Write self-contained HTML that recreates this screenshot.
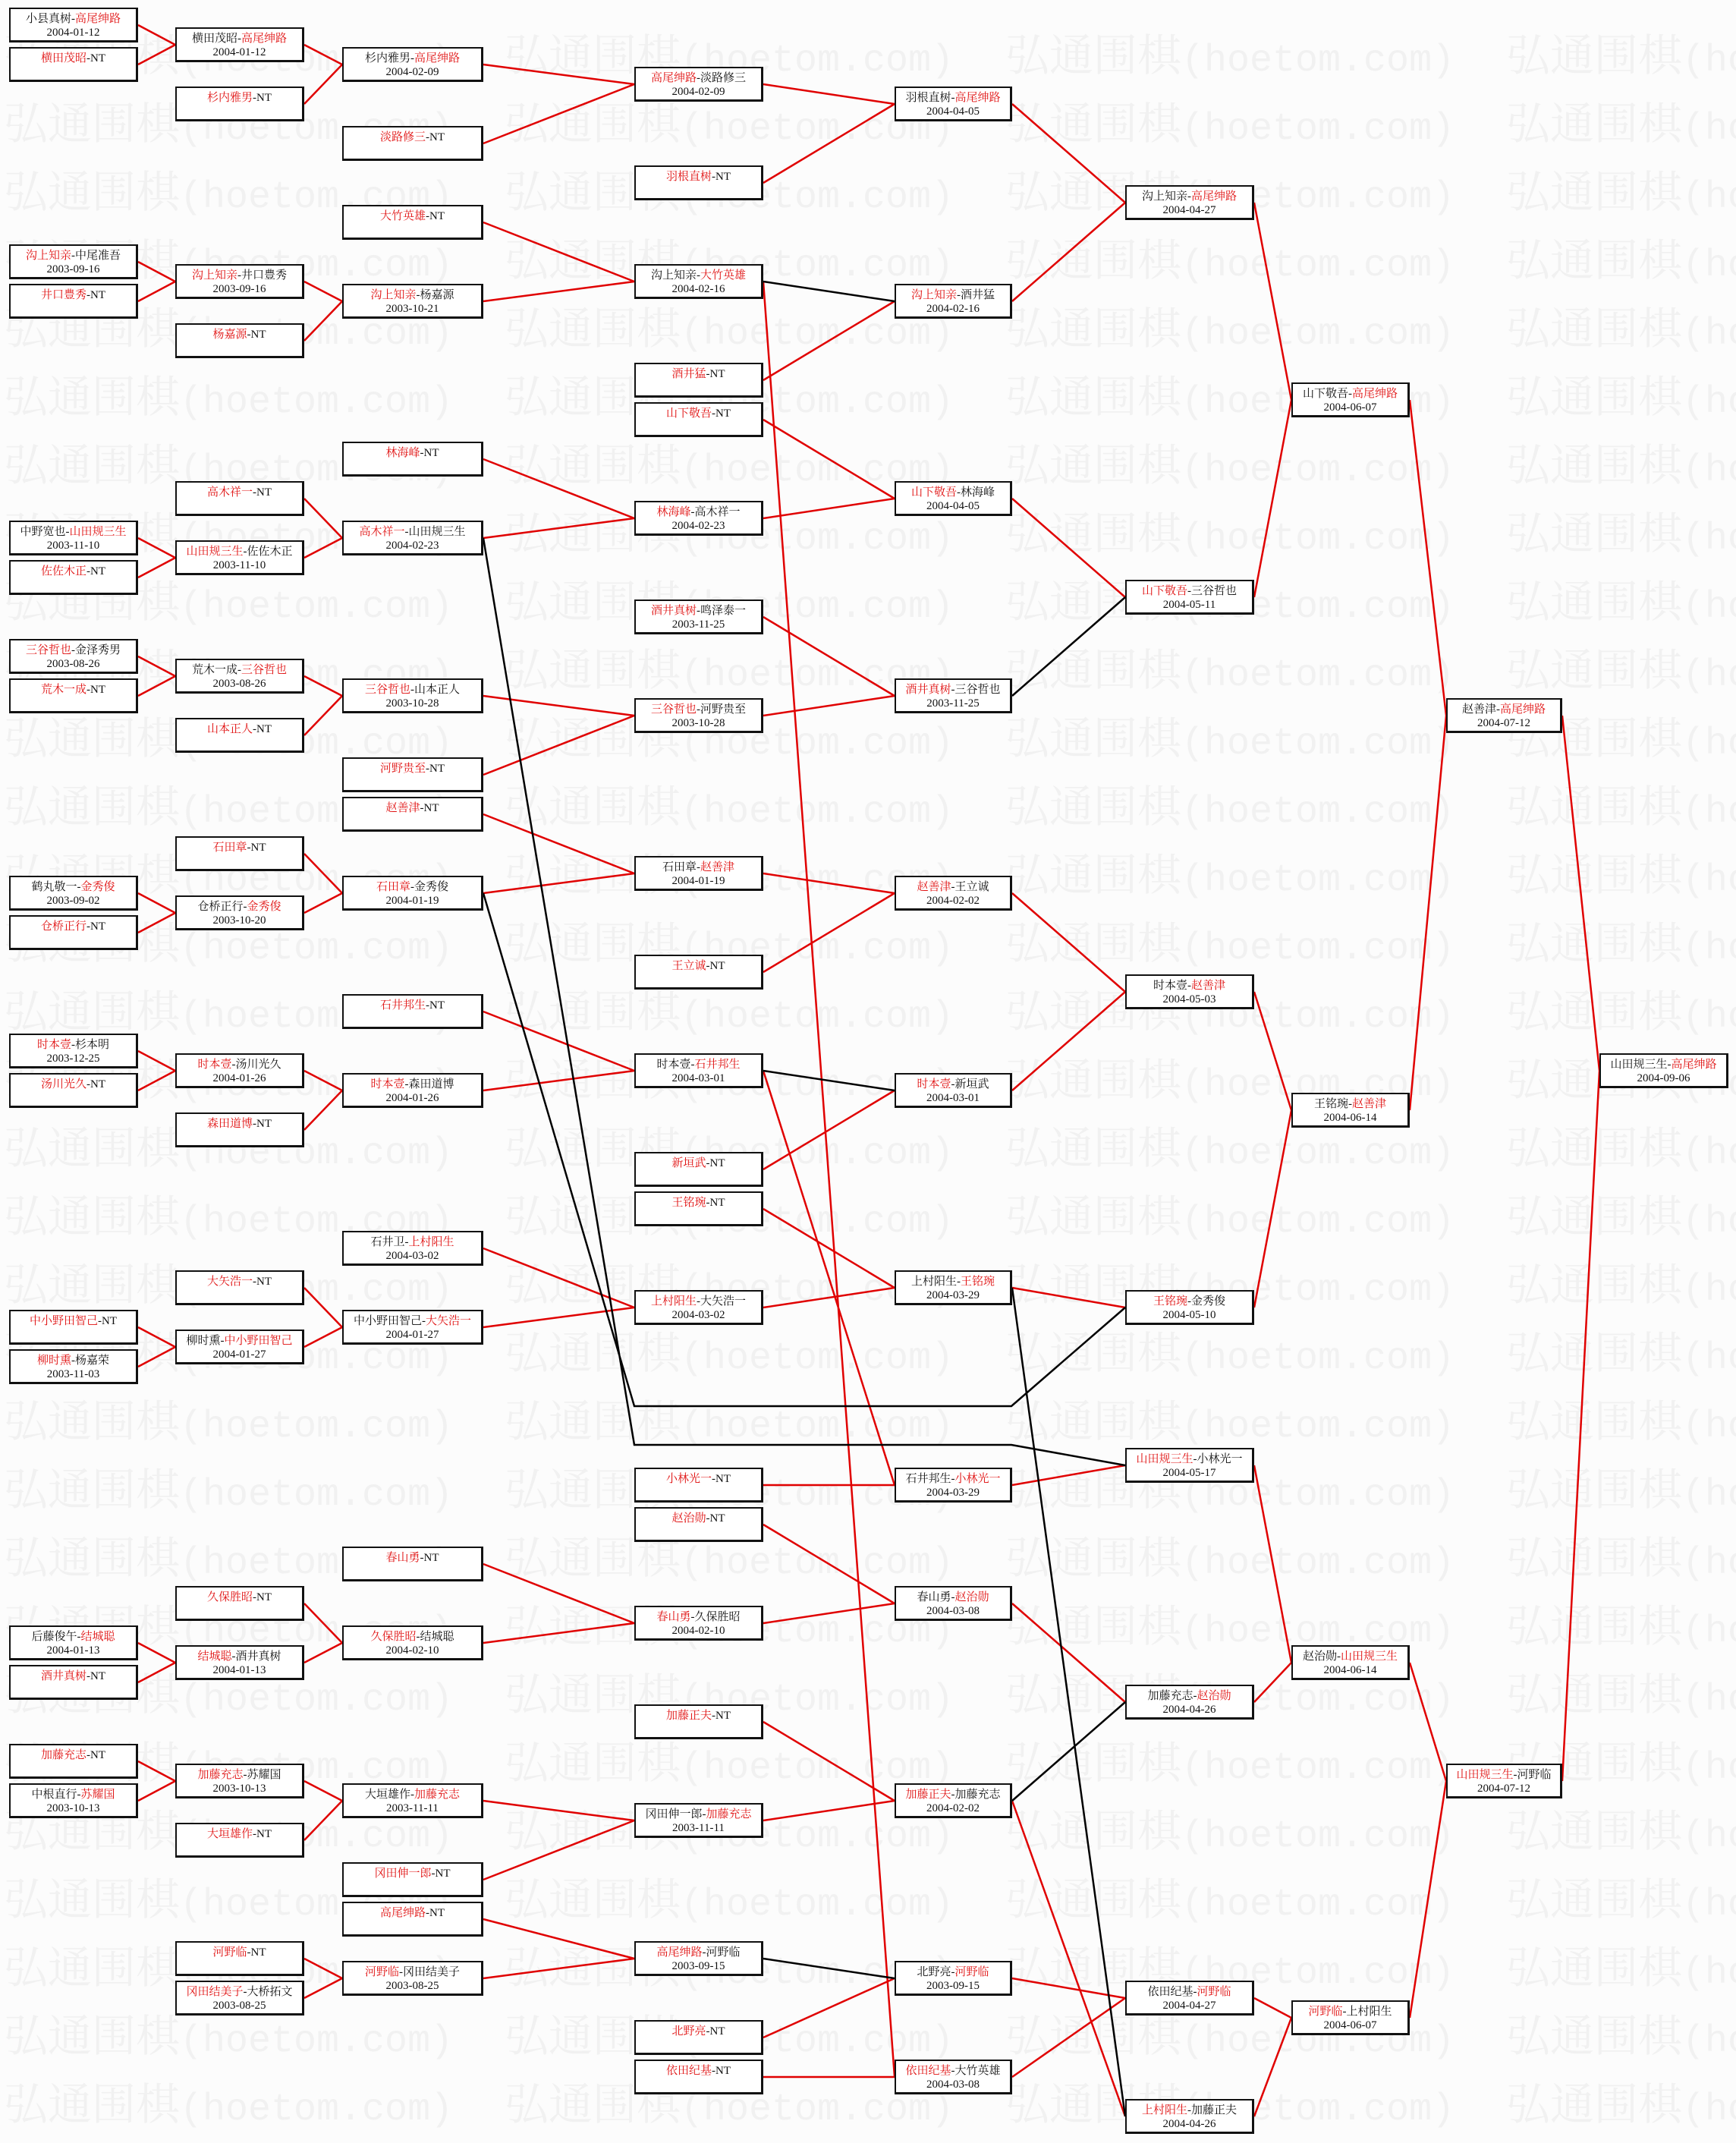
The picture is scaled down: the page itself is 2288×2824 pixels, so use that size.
<!DOCTYPE html>
<html><head><meta charset="utf-8">
<style>
html,body{margin:0;padding:0}
body{width:2288px;height:2821px;position:relative;background:#fcfcfc;overflow:hidden;font-family:"Liberation Serif","Noto Serif CJK SC",serif}
.wm{position:absolute;left:5px;white-space:nowrap;color:#f1f1f1;height:70px;line-height:70px}
.wm span{display:inline-block;width:660px}
.wm b{font-weight:normal;font-family:"Noto Serif CJK SC",serif;font-size:58px}
.wm i{font-style:normal;font-family:"Liberation Mono",monospace;font-size:50px}
svg{position:absolute;left:0;top:0}
.b{position:absolute;box-sizing:border-box;height:46px;border:2px solid #111;border-right-width:3px;border-bottom-width:3px;background:#fff;text-align:center;font-size:15px;line-height:18px;padding-top:4px;color:#111;white-space:nowrap;font-family:"Liberation Serif","Noto Serif CJK SC",serif}
.r{color:#e01010}
.c0{left:12px;width:170px}.c1{left:231px;width:170px}.c2{left:451px;width:186px}.c3{left:836px;width:170px}
.c4{left:1179px;width:155px}.c5{left:1483px;width:170px}.c6{left:1702px;width:156px}.c7{left:1906px;width:153px}.c8{left:2108px;width:170px}
</style></head><body>

<div class="wm" style="top:33px"><span><b>弘通围棋</b><i>(hoetom.com)</i></span><span><b>弘通围棋</b><i>(hoetom.com)</i></span><span><b>弘通围棋</b><i>(hoetom.com)</i></span><span><b>弘通围棋</b><i>(hoetom.com)</i></span></div>
<div class="wm" style="top:123px"><span><b>弘通围棋</b><i>(hoetom.com)</i></span><span><b>弘通围棋</b><i>(hoetom.com)</i></span><span><b>弘通围棋</b><i>(hoetom.com)</i></span><span><b>弘通围棋</b><i>(hoetom.com)</i></span></div>
<div class="wm" style="top:213px"><span><b>弘通围棋</b><i>(hoetom.com)</i></span><span><b>弘通围棋</b><i>(hoetom.com)</i></span><span><b>弘通围棋</b><i>(hoetom.com)</i></span><span><b>弘通围棋</b><i>(hoetom.com)</i></span></div>
<div class="wm" style="top:303px"><span><b>弘通围棋</b><i>(hoetom.com)</i></span><span><b>弘通围棋</b><i>(hoetom.com)</i></span><span><b>弘通围棋</b><i>(hoetom.com)</i></span><span><b>弘通围棋</b><i>(hoetom.com)</i></span></div>
<div class="wm" style="top:393px"><span><b>弘通围棋</b><i>(hoetom.com)</i></span><span><b>弘通围棋</b><i>(hoetom.com)</i></span><span><b>弘通围棋</b><i>(hoetom.com)</i></span><span><b>弘通围棋</b><i>(hoetom.com)</i></span></div>
<div class="wm" style="top:483px"><span><b>弘通围棋</b><i>(hoetom.com)</i></span><span><b>弘通围棋</b><i>(hoetom.com)</i></span><span><b>弘通围棋</b><i>(hoetom.com)</i></span><span><b>弘通围棋</b><i>(hoetom.com)</i></span></div>
<div class="wm" style="top:573px"><span><b>弘通围棋</b><i>(hoetom.com)</i></span><span><b>弘通围棋</b><i>(hoetom.com)</i></span><span><b>弘通围棋</b><i>(hoetom.com)</i></span><span><b>弘通围棋</b><i>(hoetom.com)</i></span></div>
<div class="wm" style="top:663px"><span><b>弘通围棋</b><i>(hoetom.com)</i></span><span><b>弘通围棋</b><i>(hoetom.com)</i></span><span><b>弘通围棋</b><i>(hoetom.com)</i></span><span><b>弘通围棋</b><i>(hoetom.com)</i></span></div>
<div class="wm" style="top:753px"><span><b>弘通围棋</b><i>(hoetom.com)</i></span><span><b>弘通围棋</b><i>(hoetom.com)</i></span><span><b>弘通围棋</b><i>(hoetom.com)</i></span><span><b>弘通围棋</b><i>(hoetom.com)</i></span></div>
<div class="wm" style="top:843px"><span><b>弘通围棋</b><i>(hoetom.com)</i></span><span><b>弘通围棋</b><i>(hoetom.com)</i></span><span><b>弘通围棋</b><i>(hoetom.com)</i></span><span><b>弘通围棋</b><i>(hoetom.com)</i></span></div>
<div class="wm" style="top:933px"><span><b>弘通围棋</b><i>(hoetom.com)</i></span><span><b>弘通围棋</b><i>(hoetom.com)</i></span><span><b>弘通围棋</b><i>(hoetom.com)</i></span><span><b>弘通围棋</b><i>(hoetom.com)</i></span></div>
<div class="wm" style="top:1023px"><span><b>弘通围棋</b><i>(hoetom.com)</i></span><span><b>弘通围棋</b><i>(hoetom.com)</i></span><span><b>弘通围棋</b><i>(hoetom.com)</i></span><span><b>弘通围棋</b><i>(hoetom.com)</i></span></div>
<div class="wm" style="top:1113px"><span><b>弘通围棋</b><i>(hoetom.com)</i></span><span><b>弘通围棋</b><i>(hoetom.com)</i></span><span><b>弘通围棋</b><i>(hoetom.com)</i></span><span><b>弘通围棋</b><i>(hoetom.com)</i></span></div>
<div class="wm" style="top:1203px"><span><b>弘通围棋</b><i>(hoetom.com)</i></span><span><b>弘通围棋</b><i>(hoetom.com)</i></span><span><b>弘通围棋</b><i>(hoetom.com)</i></span><span><b>弘通围棋</b><i>(hoetom.com)</i></span></div>
<div class="wm" style="top:1293px"><span><b>弘通围棋</b><i>(hoetom.com)</i></span><span><b>弘通围棋</b><i>(hoetom.com)</i></span><span><b>弘通围棋</b><i>(hoetom.com)</i></span><span><b>弘通围棋</b><i>(hoetom.com)</i></span></div>
<div class="wm" style="top:1383px"><span><b>弘通围棋</b><i>(hoetom.com)</i></span><span><b>弘通围棋</b><i>(hoetom.com)</i></span><span><b>弘通围棋</b><i>(hoetom.com)</i></span><span><b>弘通围棋</b><i>(hoetom.com)</i></span></div>
<div class="wm" style="top:1473px"><span><b>弘通围棋</b><i>(hoetom.com)</i></span><span><b>弘通围棋</b><i>(hoetom.com)</i></span><span><b>弘通围棋</b><i>(hoetom.com)</i></span><span><b>弘通围棋</b><i>(hoetom.com)</i></span></div>
<div class="wm" style="top:1563px"><span><b>弘通围棋</b><i>(hoetom.com)</i></span><span><b>弘通围棋</b><i>(hoetom.com)</i></span><span><b>弘通围棋</b><i>(hoetom.com)</i></span><span><b>弘通围棋</b><i>(hoetom.com)</i></span></div>
<div class="wm" style="top:1653px"><span><b>弘通围棋</b><i>(hoetom.com)</i></span><span><b>弘通围棋</b><i>(hoetom.com)</i></span><span><b>弘通围棋</b><i>(hoetom.com)</i></span><span><b>弘通围棋</b><i>(hoetom.com)</i></span></div>
<div class="wm" style="top:1743px"><span><b>弘通围棋</b><i>(hoetom.com)</i></span><span><b>弘通围棋</b><i>(hoetom.com)</i></span><span><b>弘通围棋</b><i>(hoetom.com)</i></span><span><b>弘通围棋</b><i>(hoetom.com)</i></span></div>
<div class="wm" style="top:1833px"><span><b>弘通围棋</b><i>(hoetom.com)</i></span><span><b>弘通围棋</b><i>(hoetom.com)</i></span><span><b>弘通围棋</b><i>(hoetom.com)</i></span><span><b>弘通围棋</b><i>(hoetom.com)</i></span></div>
<div class="wm" style="top:1923px"><span><b>弘通围棋</b><i>(hoetom.com)</i></span><span><b>弘通围棋</b><i>(hoetom.com)</i></span><span><b>弘通围棋</b><i>(hoetom.com)</i></span><span><b>弘通围棋</b><i>(hoetom.com)</i></span></div>
<div class="wm" style="top:2013px"><span><b>弘通围棋</b><i>(hoetom.com)</i></span><span><b>弘通围棋</b><i>(hoetom.com)</i></span><span><b>弘通围棋</b><i>(hoetom.com)</i></span><span><b>弘通围棋</b><i>(hoetom.com)</i></span></div>
<div class="wm" style="top:2103px"><span><b>弘通围棋</b><i>(hoetom.com)</i></span><span><b>弘通围棋</b><i>(hoetom.com)</i></span><span><b>弘通围棋</b><i>(hoetom.com)</i></span><span><b>弘通围棋</b><i>(hoetom.com)</i></span></div>
<div class="wm" style="top:2193px"><span><b>弘通围棋</b><i>(hoetom.com)</i></span><span><b>弘通围棋</b><i>(hoetom.com)</i></span><span><b>弘通围棋</b><i>(hoetom.com)</i></span><span><b>弘通围棋</b><i>(hoetom.com)</i></span></div>
<div class="wm" style="top:2283px"><span><b>弘通围棋</b><i>(hoetom.com)</i></span><span><b>弘通围棋</b><i>(hoetom.com)</i></span><span><b>弘通围棋</b><i>(hoetom.com)</i></span><span><b>弘通围棋</b><i>(hoetom.com)</i></span></div>
<div class="wm" style="top:2373px"><span><b>弘通围棋</b><i>(hoetom.com)</i></span><span><b>弘通围棋</b><i>(hoetom.com)</i></span><span><b>弘通围棋</b><i>(hoetom.com)</i></span><span><b>弘通围棋</b><i>(hoetom.com)</i></span></div>
<div class="wm" style="top:2463px"><span><b>弘通围棋</b><i>(hoetom.com)</i></span><span><b>弘通围棋</b><i>(hoetom.com)</i></span><span><b>弘通围棋</b><i>(hoetom.com)</i></span><span><b>弘通围棋</b><i>(hoetom.com)</i></span></div>
<div class="wm" style="top:2553px"><span><b>弘通围棋</b><i>(hoetom.com)</i></span><span><b>弘通围棋</b><i>(hoetom.com)</i></span><span><b>弘通围棋</b><i>(hoetom.com)</i></span><span><b>弘通围棋</b><i>(hoetom.com)</i></span></div>
<div class="wm" style="top:2643px"><span><b>弘通围棋</b><i>(hoetom.com)</i></span><span><b>弘通围棋</b><i>(hoetom.com)</i></span><span><b>弘通围棋</b><i>(hoetom.com)</i></span><span><b>弘通围棋</b><i>(hoetom.com)</i></span></div>
<div class="wm" style="top:2733px"><span><b>弘通围棋</b><i>(hoetom.com)</i></span><span><b>弘通围棋</b><i>(hoetom.com)</i></span><span><b>弘通围棋</b><i>(hoetom.com)</i></span><span><b>弘通围棋</b><i>(hoetom.com)</i></span></div>

<svg width="2288" height="2821" viewBox="0 0 2288 2821">
<g stroke="#e00000" stroke-width="2.5" fill="none">
<path d="M182 33L231 59M182 85L231 59M182 345L231 371M182 397L231 371M182 709L231 735M182 761L231 735M182 865L231 891M182 917L231 891M182 1177L231 1203M182 1229L231 1203M182 1385L231 1411M182 1437L231 1411M182 1749L231 1775M182 1801L231 1775M182 2165L231 2191M182 2217L231 2191M182 2321L231 2347M182 2373L231 2347"/>
<path d="M401 59L451 85M401 137L451 85M401 371L451 397M401 449L451 397M401 657L451 709M401 735L451 709M401 891L451 917M401 969L451 917M401 1125L451 1177M401 1203L451 1177M401 1411L451 1437M401 1489L451 1437M401 1697L451 1749M401 1775L451 1749M401 2113L451 2165M401 2191L451 2165M401 2347L451 2373M401 2425L451 2373M401 2581L451 2607M401 2633L451 2607"/>
<path d="M637 85L836 111M637 189L836 111M637 293L836 371M637 397L836 371M637 605L836 683M637 709L836 683M637 917L836 943M637 1021L836 943M637 1073L836 1151M637 1177L836 1151M637 1333L836 1411M637 1437L836 1411M637 1645L836 1723M637 1749L836 1723M637 2061L836 2139M637 2165L836 2139M637 2373L836 2399M637 2477L836 2399M637 2529L836 2581M637 2607L836 2581"/>
<path d="M1006 111L1179 137M1006 241L1179 137M1006 501L1179 397M1006 553L1179 657M1006 683L1179 657M1006 813L1179 917M1006 943L1179 917M1006 1151L1179 1177M1006 1281L1179 1177M1006 1541L1179 1437M1006 1593L1179 1697M1006 1723L1179 1697M1006 1957L1179 1957M1006 2009L1179 2113M1006 2139L1179 2113M1006 2269L1179 2373M1006 2399L1179 2373M1006 2685L1179 2607M1006 2737L1179 2737M1006 371L1179 2737M1006 1411L1179 1957"/>
<path d="M1334 137L1483 267M1334 397L1483 267M1334 657L1483 787M1334 1177L1483 1307M1334 1437L1483 1307M1334 1697L1483 1723M1334 1957L1483 1931M1334 2113L1483 2243M1334 2373L1483 2789M1334 2607L1483 2633M1334 2737L1483 2633"/>
<path d="M1653 267L1702 527M1653 787L1702 527M1653 1307L1702 1463M1653 1723L1702 1463M1653 1931L1702 2191M1653 2243L1702 2191M1653 2633L1702 2659M1653 2789L1702 2659"/>
<path d="M1858 527L1906 943M1858 1463L1906 943M1858 2191L1906 2347M1858 2659L1906 2347M2059 943L2108 1411M2059 2347L2108 1411"/>
</g>
<g stroke="#000" stroke-width="2.5" fill="none">
<path d="M1006 371L1179 397M1006 1411L1179 1437M1006 2581L1179 2607M1334 917L1483 787M1334 2373L1483 2243M1334 1697L1483 2789"/>
<path d="M637 709L836 1904L1333 1904L1483 1931M637 1177L836 1853L1333 1853L1483 1723"/>
</g>
</svg>

<!-- C0 -->
<div class="b c0" style="top:10px">小县真树-<span class="r">高尾绅路</span><br>2004-01-12</div>
<div class="b c0" style="top:62px"><span class="r">横田茂昭</span>-NT</div>
<div class="b c0" style="top:322px"><span class="r">沟上知亲</span>-中尾准吾<br>2003-09-16</div>
<div class="b c0" style="top:374px"><span class="r">井口豊秀</span>-NT</div>
<div class="b c0" style="top:686px">中野宽也-<span class="r">山田规三生</span><br>2003-11-10</div>
<div class="b c0" style="top:738px"><span class="r">佐佐木正</span>-NT</div>
<div class="b c0" style="top:842px"><span class="r">三谷哲也</span>-金泽秀男<br>2003-08-26</div>
<div class="b c0" style="top:894px"><span class="r">荒木一成</span>-NT</div>
<div class="b c0" style="top:1154px">鹤丸敬一-<span class="r">金秀俊</span><br>2003-09-02</div>
<div class="b c0" style="top:1206px"><span class="r">仓桥正行</span>-NT</div>
<div class="b c0" style="top:1362px"><span class="r">时本壹</span>-杉本明<br>2003-12-25</div>
<div class="b c0" style="top:1414px"><span class="r">汤川光久</span>-NT</div>
<div class="b c0" style="top:1726px"><span class="r">中小野田智己</span>-NT</div>
<div class="b c0" style="top:1778px"><span class="r">柳时熏</span>-杨嘉荣<br>2003-11-03</div>
<div class="b c0" style="top:2142px">后藤俊午-<span class="r">结城聪</span><br>2004-01-13</div>
<div class="b c0" style="top:2194px"><span class="r">酒井真树</span>-NT</div>
<div class="b c0" style="top:2298px"><span class="r">加藤充志</span>-NT</div>
<div class="b c0" style="top:2350px">中根直行-<span class="r">苏耀国</span><br>2003-10-13</div>

<!-- C1 -->
<div class="b c1" style="top:36px">横田茂昭-<span class="r">高尾绅路</span><br>2004-01-12</div>
<div class="b c1" style="top:114px"><span class="r">杉内雅男</span>-NT</div>
<div class="b c1" style="top:348px"><span class="r">沟上知亲</span>-井口豊秀<br>2003-09-16</div>
<div class="b c1" style="top:426px"><span class="r">杨嘉源</span>-NT</div>
<div class="b c1" style="top:634px"><span class="r">高木祥一</span>-NT</div>
<div class="b c1" style="top:712px"><span class="r">山田规三生</span>-佐佐木正<br>2003-11-10</div>
<div class="b c1" style="top:868px">荒木一成-<span class="r">三谷哲也</span><br>2003-08-26</div>
<div class="b c1" style="top:946px"><span class="r">山本正人</span>-NT</div>
<div class="b c1" style="top:1102px"><span class="r">石田章</span>-NT</div>
<div class="b c1" style="top:1180px">仓桥正行-<span class="r">金秀俊</span><br>2003-10-20</div>
<div class="b c1" style="top:1388px"><span class="r">时本壹</span>-汤川光久<br>2004-01-26</div>
<div class="b c1" style="top:1466px"><span class="r">森田道博</span>-NT</div>
<div class="b c1" style="top:1674px"><span class="r">大矢浩一</span>-NT</div>
<div class="b c1" style="top:1752px">柳时熏-<span class="r">中小野田智己</span><br>2004-01-27</div>
<div class="b c1" style="top:2090px"><span class="r">久保胜昭</span>-NT</div>
<div class="b c1" style="top:2168px"><span class="r">结城聪</span>-酒井真树<br>2004-01-13</div>
<div class="b c1" style="top:2324px"><span class="r">加藤充志</span>-苏耀国<br>2003-10-13</div>
<div class="b c1" style="top:2402px"><span class="r">大垣雄作</span>-NT</div>
<div class="b c1" style="top:2558px"><span class="r">河野临</span>-NT</div>
<div class="b c1" style="top:2610px"><span class="r">冈田结美子</span>-大桥拓文<br>2003-08-25</div>

<!-- C2 -->
<div class="b c2" style="top:62px">杉内雅男-<span class="r">高尾绅路</span><br>2004-02-09</div>
<div class="b c2" style="top:166px"><span class="r">淡路修三</span>-NT</div>
<div class="b c2" style="top:270px"><span class="r">大竹英雄</span>-NT</div>
<div class="b c2" style="top:374px"><span class="r">沟上知亲</span>-杨嘉源<br>2003-10-21</div>
<div class="b c2" style="top:582px"><span class="r">林海峰</span>-NT</div>
<div class="b c2" style="top:686px"><span class="r">高木祥一</span>-山田规三生<br>2004-02-23</div>
<div class="b c2" style="top:894px"><span class="r">三谷哲也</span>-山本正人<br>2003-10-28</div>
<div class="b c2" style="top:998px"><span class="r">河野贵至</span>-NT</div>
<div class="b c2" style="top:1050px"><span class="r">赵善津</span>-NT</div>
<div class="b c2" style="top:1154px"><span class="r">石田章</span>-金秀俊<br>2004-01-19</div>
<div class="b c2" style="top:1310px"><span class="r">石井邦生</span>-NT</div>
<div class="b c2" style="top:1414px"><span class="r">时本壹</span>-森田道博<br>2004-01-26</div>
<div class="b c2" style="top:1622px">石井卫-<span class="r">上村阳生</span><br>2004-03-02</div>
<div class="b c2" style="top:1726px">中小野田智己-<span class="r">大矢浩一</span><br>2004-01-27</div>
<div class="b c2" style="top:2038px"><span class="r">春山勇</span>-NT</div>
<div class="b c2" style="top:2142px"><span class="r">久保胜昭</span>-结城聪<br>2004-02-10</div>
<div class="b c2" style="top:2350px">大垣雄作-<span class="r">加藤充志</span><br>2003-11-11</div>
<div class="b c2" style="top:2454px"><span class="r">冈田伸一郎</span>-NT</div>
<div class="b c2" style="top:2506px"><span class="r">高尾绅路</span>-NT</div>
<div class="b c2" style="top:2584px"><span class="r">河野临</span>-冈田结美子<br>2003-08-25</div>

<!-- C3 -->
<div class="b c3" style="top:88px"><span class="r">高尾绅路</span>-淡路修三<br>2004-02-09</div>
<div class="b c3" style="top:218px"><span class="r">羽根直树</span>-NT</div>
<div class="b c3" style="top:348px">沟上知亲-<span class="r">大竹英雄</span><br>2004-02-16</div>
<div class="b c3" style="top:478px"><span class="r">酒井猛</span>-NT</div>
<div class="b c3" style="top:530px"><span class="r">山下敬吾</span>-NT</div>
<div class="b c3" style="top:660px"><span class="r">林海峰</span>-高木祥一<br>2004-02-23</div>
<div class="b c3" style="top:790px"><span class="r">酒井真树</span>-鸣泽泰一<br>2003-11-25</div>
<div class="b c3" style="top:920px"><span class="r">三谷哲也</span>-河野贵至<br>2003-10-28</div>
<div class="b c3" style="top:1128px">石田章-<span class="r">赵善津</span><br>2004-01-19</div>
<div class="b c3" style="top:1258px"><span class="r">王立诚</span>-NT</div>
<div class="b c3" style="top:1388px">时本壹-<span class="r">石井邦生</span><br>2004-03-01</div>
<div class="b c3" style="top:1518px"><span class="r">新垣武</span>-NT</div>
<div class="b c3" style="top:1570px"><span class="r">王铭琬</span>-NT</div>
<div class="b c3" style="top:1700px"><span class="r">上村阳生</span>-大矢浩一<br>2004-03-02</div>
<div class="b c3" style="top:1934px"><span class="r">小林光一</span>-NT</div>
<div class="b c3" style="top:1986px"><span class="r">赵治勋</span>-NT</div>
<div class="b c3" style="top:2116px"><span class="r">春山勇</span>-久保胜昭<br>2004-02-10</div>
<div class="b c3" style="top:2246px"><span class="r">加藤正夫</span>-NT</div>
<div class="b c3" style="top:2376px">冈田伸一郎-<span class="r">加藤充志</span><br>2003-11-11</div>
<div class="b c3" style="top:2558px"><span class="r">高尾绅路</span>-河野临<br>2003-09-15</div>
<div class="b c3" style="top:2662px"><span class="r">北野亮</span>-NT</div>
<div class="b c3" style="top:2714px"><span class="r">依田纪基</span>-NT</div>

<!-- C4 -->
<div class="b c4" style="top:114px">羽根直树-<span class="r">高尾绅路</span><br>2004-04-05</div>
<div class="b c4" style="top:374px"><span class="r">沟上知亲</span>-酒井猛<br>2004-02-16</div>
<div class="b c4" style="top:634px"><span class="r">山下敬吾</span>-林海峰<br>2004-04-05</div>
<div class="b c4" style="top:894px"><span class="r">酒井真树</span>-三谷哲也<br>2003-11-25</div>
<div class="b c4" style="top:1154px"><span class="r">赵善津</span>-王立诚<br>2004-02-02</div>
<div class="b c4" style="top:1414px"><span class="r">时本壹</span>-新垣武<br>2004-03-01</div>
<div class="b c4" style="top:1674px">上村阳生-<span class="r">王铭琬</span><br>2004-03-29</div>
<div class="b c4" style="top:1934px">石井邦生-<span class="r">小林光一</span><br>2004-03-29</div>
<div class="b c4" style="top:2090px">春山勇-<span class="r">赵治勋</span><br>2004-03-08</div>
<div class="b c4" style="top:2350px"><span class="r">加藤正夫</span>-加藤充志<br>2004-02-02</div>
<div class="b c4" style="top:2584px">北野亮-<span class="r">河野临</span><br>2003-09-15</div>
<div class="b c4" style="top:2714px"><span class="r">依田纪基</span>-大竹英雄<br>2004-03-08</div>

<!-- C5 -->
<div class="b c5" style="top:244px">沟上知亲-<span class="r">高尾绅路</span><br>2004-04-27</div>
<div class="b c5" style="top:764px"><span class="r">山下敬吾</span>-三谷哲也<br>2004-05-11</div>
<div class="b c5" style="top:1284px">时本壹-<span class="r">赵善津</span><br>2004-05-03</div>
<div class="b c5" style="top:1700px"><span class="r">王铭琬</span>-金秀俊<br>2004-05-10</div>
<div class="b c5" style="top:1908px"><span class="r">山田规三生</span>-小林光一<br>2004-05-17</div>
<div class="b c5" style="top:2220px">加藤充志-<span class="r">赵治勋</span><br>2004-04-26</div>
<div class="b c5" style="top:2610px">依田纪基-<span class="r">河野临</span><br>2004-04-27</div>
<div class="b c5" style="top:2766px"><span class="r">上村阳生</span>-加藤正夫<br>2004-04-26</div>

<!-- C6 -->
<div class="b c6" style="top:504px">山下敬吾-<span class="r">高尾绅路</span><br>2004-06-07</div>
<div class="b c6" style="top:1440px">王铭琬-<span class="r">赵善津</span><br>2004-06-14</div>
<div class="b c6" style="top:2168px">赵治勋-<span class="r">山田规三生</span><br>2004-06-14</div>
<div class="b c6" style="top:2636px"><span class="r">河野临</span>-上村阳生<br>2004-06-07</div>

<!-- C7 -->
<div class="b c7" style="top:920px">赵善津-<span class="r">高尾绅路</span><br>2004-07-12</div>
<div class="b c7" style="top:2324px"><span class="r">山田规三生</span>-河野临<br>2004-07-12</div>

<!-- C8 -->
<div class="b c8" style="top:1388px">山田规三生-<span class="r">高尾绅路</span><br>2004-09-06</div>

</body></html>
